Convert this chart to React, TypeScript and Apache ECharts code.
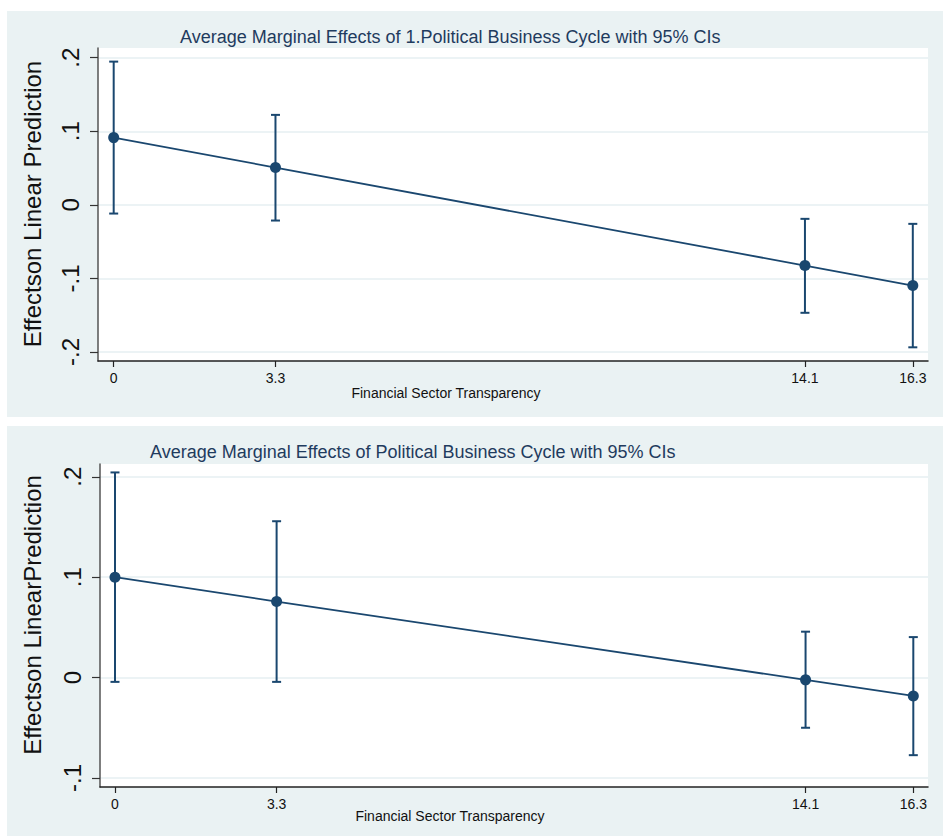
import React, { useEffect, useRef } from "react";
import * as echarts from "echarts";

// ---- data ----
const xValues = [0, 3.3, 14.1, 16.3];
const xTickLabels = ["0", "3.3", "14.1", "16.3"];

const effectsTop = [0.0914, 0.0507, -0.0825, -0.1097];
const lowerTop = [-0.0118, -0.0213, -0.1467, -0.1936];
const upperTop = [0.1947, 0.1223, -0.019, -0.0258];

const effectsBottom = [0.1, 0.0757, -0.0023, -0.0183];
const lowerBottom = [-0.0043, -0.0043, -0.05, -0.0773];
const upperBottom = [0.2043, 0.1557, 0.0457, 0.0403];

const yTicksTop = [-0.2, -0.1, 0, 0.1, 0.2];
const yTickLabelsTop = ["-.2", "-.1", "0", ".1", ".2"];
const yTicksBottom = [-0.1, 0, 0.1, 0.2];
const yTickLabelsBottom = ["-.1", "0", ".1", ".2"];

const titleTop = "Average Marginal Effects of 1.Political Business Cycle with 95% CIs";
const titleBottom = "Average Marginal Effects of Political Business Cycle with 95% CIs";
const yNameTop = "Effectson Linear Prediction";
const yNameBottom = "Effectson LinearPrediction";
const xName = "Financial Sector Transparency";

// ---- style ----
const FONT = "'Liberation Sans', Arial, sans-serif";
const NAVY = "#1a476f";
const BG = "#eaf2f3";
const GRID = "#e6eff2";
const TITLE_COLOR = "#1f3b5e";

function labelFor(values: number[], labels: string[]) {
  return (v: number) => {
    const i = values.findIndex((t) => Math.abs(t - v) < 1e-9);
    return i >= 0 ? labels[i] : "";
  };
}

function errorBarRender(params: any, api: any) {
  const x = api.value(0);
  const lo = api.value(1);
  const hi = api.value(2);
  const pLo = api.coord([x, lo]);
  const pHi = api.coord([x, hi]);
  const hw = 4.5;
  const style = { stroke: NAVY, lineWidth: 2 };
  return {
    type: "group",
    children: [
      { type: "line", shape: { x1: pHi[0], y1: pHi[1], x2: pLo[0], y2: pLo[1] }, style },
      { type: "line", shape: { x1: pHi[0] - hw, y1: pHi[1], x2: pHi[0] + hw, y2: pHi[1] }, style },
      { type: "line", shape: { x1: pLo[0] - hw, y1: pLo[1], x2: pLo[0] + hw, y2: pLo[1] }, style },
    ],
  };
}

function xAxisCfg(gridIndex: number, min: number, max: number) {
  return {
    type: "value",
    gridIndex,
    min,
    max,
    axisLine: { show: true, onZero: false, lineStyle: { color: "#222", width: 1.5 } },
    axisTick: { show: true, length: 6, customValues: xValues, lineStyle: { color: "#222", width: 1.2 } },
    axisLabel: {
      show: true,
      customValues: xValues,
      formatter: labelFor(xValues, xTickLabels),
      color: "#111",
      fontSize: 14,
      fontFamily: FONT,
      margin: 10,
    },
    splitLine: { show: false },
  };
}

function yAxisCfg(gridIndex: number, min: number, max: number, ticks: number[], labels: string[]) {
  return {
    type: "value",
    gridIndex,
    min,
    max,
    axisLine: { show: true, onZero: false, lineStyle: { color: "#555", width: 1.5 } },
    axisTick: { show: true, length: 8, customValues: ticks, lineStyle: { color: "#333", width: 1.2 } },
    axisLabel: {
      show: true,
      customValues: ticks,
      formatter: labelFor(ticks, labels),
      rotate: 90,
      color: "#111",
      fontSize: 24,
      fontFamily: FONT,
      margin: 16,
    },
    splitLine: { show: true, lineStyle: { color: GRID, width: 1.5 } },
  };
}

export default function App() {
  const ref = useRef<HTMLDivElement>(null);

  useEffect(() => {
    if (!ref.current) return;
    const chart = echarts.init(ref.current, undefined, { renderer: "svg" });

    const lineData = (ys: number[]) => xValues.map((x, i) => [x, ys[i]]);
    const barData = (lo: number[], hi: number[]) => xValues.map((x, i) => [x, lo[i], hi[i]]);

    chart.setOption({
      animation: false,
      backgroundColor: "#ffffff",
      title: [
        {
          text: titleTop,
          left: 180,
          top: 28,
          padding: 0,
          textStyle: { fontFamily: FONT, fontSize: 18, fontWeight: "normal", color: TITLE_COLOR },
        },
        {
          text: titleBottom,
          left: 150,
          top: 443,
          padding: 0,
          textStyle: { fontFamily: FONT, fontSize: 18, fontWeight: "normal", color: TITLE_COLOR },
        },
      ],
      graphic: [
        { type: "rect", z: -10, shape: { x: 7, y: 11, width: 936, height: 406 }, style: { fill: BG } },
        { type: "rect", z: -10, shape: { x: 7, y: 426, width: 936, height: 410 }, style: { fill: BG } },
        {
          type: "text",
          x: 32,
          y: 204,
          rotation: Math.PI / 2,
          style: { text: yNameTop, fontFamily: FONT, fontSize: 24, fill: "#111", align: "center", verticalAlign: "middle" },
        },
        {
          type: "text",
          x: 32,
          y: 615,
          rotation: Math.PI / 2,
          style: { text: yNameBottom, fontFamily: FONT, fontSize: 24, fill: "#111", align: "center", verticalAlign: "middle" },
        },
        {
          type: "text",
          x: 446,
          y: 393,
          style: { text: xName, fontFamily: FONT, fontSize: 14, fill: "#111", align: "center", verticalAlign: "middle" },
        },
        {
          type: "text",
          x: 450,
          y: 816,
          style: { text: xName, fontFamily: FONT, fontSize: 14, fill: "#111", align: "center", verticalAlign: "middle" },
        },
      ],
      grid: [
        { left: 98, top: 48, width: 830, height: 313, show: true, backgroundColor: "#ffffff", borderWidth: 0 },
        { left: 100, top: 464, width: 828, height: 323, show: true, backgroundColor: "#ffffff", borderWidth: 0 },
      ],
      xAxis: [xAxisCfg(0, -0.32, 16.61), xAxisCfg(1, -0.306, 16.6)],
      yAxis: [
        yAxisCfg(0, -0.2122, 0.2132, yTicksTop, yTickLabelsTop),
        yAxisCfg(1, -0.109, 0.2127, yTicksBottom, yTickLabelsBottom),
      ],
      series: [
        {
          type: "custom",
          xAxisIndex: 0,
          yAxisIndex: 0,
          renderItem: errorBarRender,
          encode: { x: 0, y: [1, 2] },
          data: barData(lowerTop, upperTop),
          z: 2,
        },
        {
          type: "line",
          xAxisIndex: 0,
          yAxisIndex: 0,
          data: lineData(effectsTop),
          symbol: "circle",
          symbolSize: 11,
          lineStyle: { color: NAVY, width: 1.8 },
          itemStyle: { color: NAVY },
          z: 3,
        },
        {
          type: "custom",
          xAxisIndex: 1,
          yAxisIndex: 1,
          renderItem: errorBarRender,
          encode: { x: 0, y: [1, 2] },
          data: barData(lowerBottom, upperBottom),
          z: 2,
        },
        {
          type: "line",
          xAxisIndex: 1,
          yAxisIndex: 1,
          data: lineData(effectsBottom),
          symbol: "circle",
          symbolSize: 11,
          lineStyle: { color: NAVY, width: 1.8 },
          itemStyle: { color: NAVY },
          z: 3,
        },
      ],
    });

    return () => chart.dispose();
  }, []);

  return <div ref={ref} style={{ position: "absolute", left: 0, top: 0, width: 943, height: 836 }} />;
}
